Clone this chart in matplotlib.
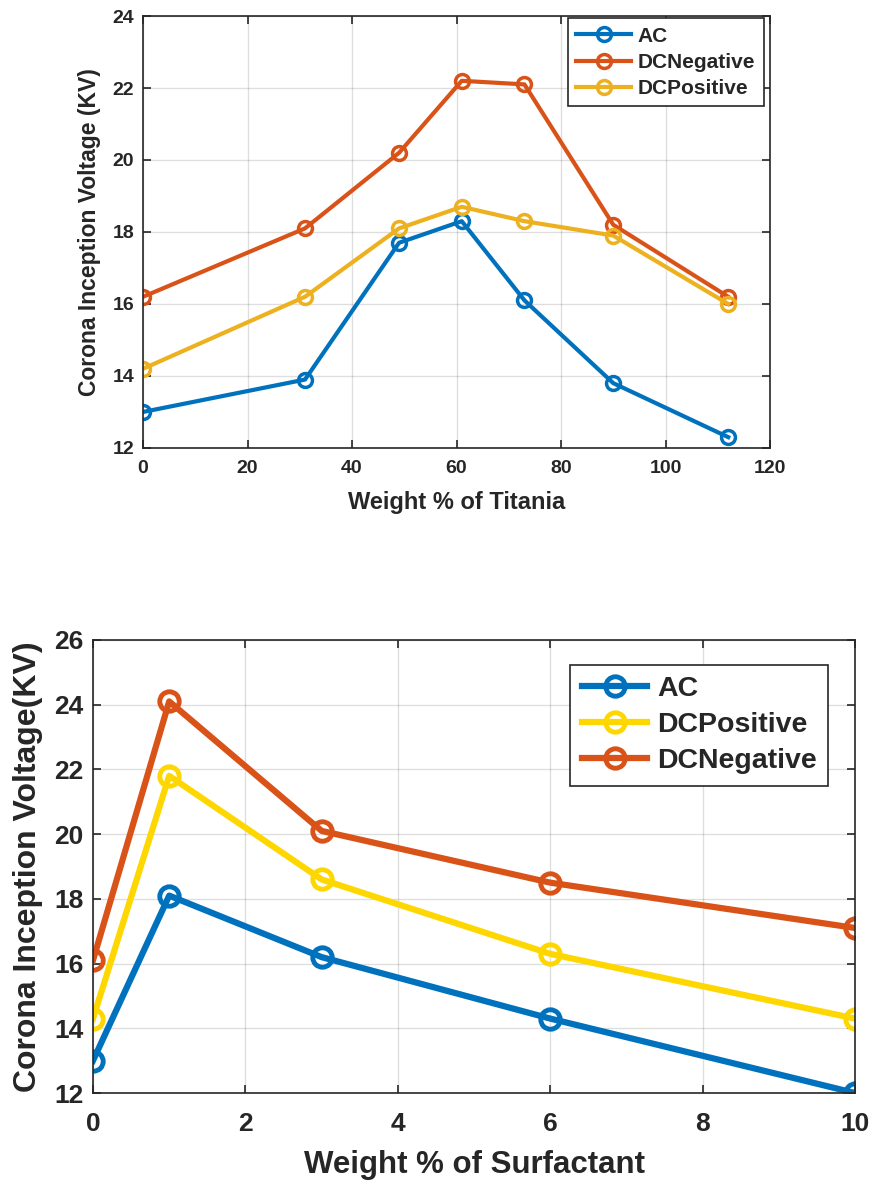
import numpy as np
import matplotlib.pyplot as plt

plt.rcParams['font.family'] = ['Liberation Sans', 'DejaVu Sans']
plt.rcParams['font.weight'] = 'bold'
dark = '#262626'
plt.rcParams['text.color'] = dark
plt.rcParams['axes.labelcolor'] = dark
plt.rcParams['xtick.color'] = dark
plt.rcParams['ytick.color'] = dark
plt.rcParams['axes.edgecolor'] = dark

# top panel: titania
titania = [0, 31, 49, 61, 73, 90, 112]
t_ac = [13.0, 13.9, 17.7, 18.3, 16.1, 13.8, 12.3]
t_dcneg = [16.2, 18.1, 20.2, 22.2, 22.1, 18.2, 16.2]
t_dcpos = [14.2, 16.2, 18.1, 18.7, 18.3, 17.9, 16.0]

# bottom panel: surfactant
surf = [0, 1, 3, 6, 10]
s_ac = [13.0, 18.1, 16.2, 14.3, 12.0]
s_dcpos = [14.3, 21.8, 18.6, 16.3, 14.3]
s_dcneg = [16.1, 24.1, 20.1, 18.5, 17.1]

blue = '#0072BD'
orange = '#D95319'
gold = '#EDB120'
yellow = '#FFD700'

fig = plt.figure(figsize=(8.69, 11.86), dpi=100)

def style(ax, fs, xpad, ypad):
    ax.grid(True, color=(0.15, 0.15, 0.15), alpha=0.15, linewidth=1)
    ax.set_axisbelow(True)
    ax.tick_params(direction='in', top=True, right=True, labelsize=fs, length=6, width=1.2)
    ax.tick_params(axis='x', pad=xpad)
    ax.tick_params(axis='y', pad=ypad)
    for s in ax.spines.values():
        s.set_linewidth(1.2)
    for lab in ax.get_xticklabels() + ax.get_yticklabels():
        lab.set_fontweight('bold')

def legend(ax, fs, hl, anchor):
    leg = ax.legend(loc='upper right', fontsize=fs, fancybox=False, edgecolor=dark,
                    framealpha=1, handlelength=hl, handletextpad=0.35,
                    borderaxespad=0, labelspacing=0.35, bbox_to_anchor=anchor)
    leg.get_frame().set_linewidth(1.2)
    for t in leg.get_texts():
        t.set_fontweight('bold')
    return leg

ax1 = fig.add_axes([0.1646, 0.6223, 0.7215, 0.3642])
ax1.plot(titania, t_ac, '-o', color=blue, lw=3, ms=10, mew=2.5, mfc='none', label='AC')
ax1.plot(titania, t_dcneg, '-o', color=orange, lw=3, ms=10, mew=2.5, mfc='none', label='DCNegative')
ax1.plot(titania, t_dcpos, '-o', color=gold, lw=3, ms=10, mew=2.5, mfc='none', label='DCPositive')
ax1.set_xlim(0, 120)
ax1.set_ylim(12, 24)
ax1.set_xticks(np.arange(0, 121, 20))
ax1.set_yticks(np.arange(12, 25, 2))
style(ax1, 14, 9, 6.5)
ax1.set_xlabel('Weight % of Titania', fontsize=17, fontweight='bold', labelpad=10)
ax1.set_ylabel('Corona Inception Voltage (KV)', fontsize=16.5, fontweight='bold', labelpad=8)
legend(ax1, 15, 2.6, (0.99, 0.995))

ax2 = fig.add_axes([0.107, 0.0784, 0.877, 0.382])
ax2.plot(surf, s_ac, '-o', color=blue, lw=4.5, ms=14, mew=3.5, mfc='none', label='AC')
ax2.plot(surf, s_dcpos, '-o', color=yellow, lw=4.5, ms=14, mew=3.5, mfc='none', label='DCPositive')
ax2.plot(surf, s_dcneg, '-o', color=orange, lw=4.5, ms=14, mew=3.5, mfc='none', label='DCNegative')
ax2.set_xlim(0, 10)
ax2.set_ylim(12, 26)
ax2.set_xticks(np.arange(0, 11, 2))
ax2.set_yticks(np.arange(12, 27, 2))
style(ax2, 19, 14, 7)
ax2.set_xlabel('Weight % of Surfactant', fontsize=22.5, fontweight='bold', labelpad=10)
ax2.set_ylabel('Corona Inception Voltage(KV)', fontsize=23, fontweight='bold', labelpad=8)
legend(ax2, 20.5, 2.3, (0.965, 0.945))

fig.savefig('out.png', dpi=100)
